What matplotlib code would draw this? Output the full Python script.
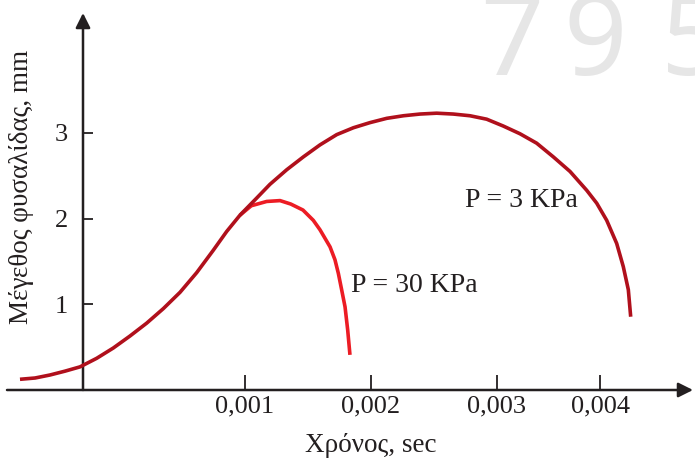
import numpy as np
import matplotlib
matplotlib.use('Agg')
import matplotlib.pyplot as plt

plt.rcParams['font.family'] = ['Liberation Serif', 'DejaVu Serif']

# Data (time in seconds, bubble size in mm)
t_3kpa = [-0.000389, -0.000296, -0.000204, -0.000111, -0.0000185, 0.0000846,
          0.000187, 0.00029, 0.000393, 0.000496, 0.000599, 0.000702,
          0.000804, 0.000887, 0.000969, 0.001093, 0.001198, 0.001331,
          0.001463, 0.001595, 0.001728, 0.00186, 0.001992, 0.002125,
          0.002257, 0.002389, 0.002521, 0.002653, 0.002786, 0.002918,
          0.003061, 0.003223, 0.003385, 0.003547, 0.003709, 0.003871,
          0.003968, 0.004065, 0.004162, 0.004226, 0.004275, 0.004298]
size_3kpa = [0.125, 0.14, 0.175, 0.22, 0.27, 0.37,
             0.49, 0.63, 0.78, 0.95, 1.14, 1.37,
             1.63, 1.85, 2.04, 2.24, 2.40, 2.57,
             2.72, 2.86, 2.98, 3.06, 3.12, 3.17,
             3.20, 3.22, 3.23, 3.22, 3.20, 3.16,
             3.08, 2.99, 2.88, 2.72, 2.55, 2.33,
             2.18, 1.98, 1.71, 1.44, 1.17, 0.855]

t_30kpa = [0.000969, 0.00105, 0.001172, 0.001278, 0.001363, 0.00146,
           0.001542, 0.001595, 0.001675, 0.001714, 0.001741, 0.001767,
           0.001794, 0.001815, 0.001833]
size_30kpa = [2.04, 2.15, 2.20, 2.21, 2.17, 2.10,
              1.98, 1.87, 1.67, 1.52, 1.36, 1.17,
              0.97, 0.70, 0.41]

x_ticks = [0.001, 0.002, 0.003, 0.004]
x_tick_labels = ['0,001', '0,002', '0,003', '0,004']
y_ticks = [1, 2, 3]

# the drawing has unevenly spaced time ticks -> piecewise linear axis scale
T_KNOTS = [-0.001, 0.0, 0.001, 0.002, 0.003, 0.004, 0.005]
P_KNOTS = [-79, 83, 245, 371, 497, 600, 703]


def forward(t):
    return np.interp(t, T_KNOTS, P_KNOTS)


def inverse(p):
    return np.interp(p, P_KNOTS, T_KNOTS)


dark_red = '#b0101c'
bright_red = '#ec1c24'
ink = '#231f20'

fig = plt.figure(figsize=(6.95, 4.62), dpi=100)
ax = fig.add_axes([0, 0, 1, 1])
ax.set_xscale('function', functions=(forward, inverse))
ax.set_xlim(inverse(0), inverse(695))
ax.set_ylim((390 - 462) / 85.7, 390 / 85.7)

# faint watermark (cut at the top edge, as in the original)
for ch, px in zip('795', [512, 595, 693]):
    fig.text(px / 695, 1 - 75 / 462, ch, fontsize=80, color='#e6e6e6',
             family='Noto Sans', weight='medium', ha='center', va='baseline',
             zorder=0)

# axes with arrow heads
ax.annotate('', xy=(inverse(693), 0), xytext=(inverse(7), 0),
            arrowprops=dict(arrowstyle='-|>', lw=1.8, color=ink,
                            mutation_scale=22, shrinkA=0, shrinkB=0))
ax.annotate('', xy=(0, (390 - 13) / 85.7), xytext=(0, 0),
            arrowprops=dict(arrowstyle='-|>', lw=1.8, color=ink,
                            mutation_scale=22, shrinkA=0, shrinkB=0))

for side in ['top', 'right']:
    ax.spines[side].set_visible(False)
ax.spines['bottom'].set_position(('data', 0))
ax.spines['left'].set_position(('data', 0))
ax.spines['bottom'].set_color('none')
ax.spines['left'].set_color('none')

ax.set_xticks(x_ticks)
ax.set_xticklabels(x_tick_labels)
ax.set_yticks(y_ticks)
ax.minorticks_off()
ax.tick_params(axis='x', direction='in', length=11, width=1.3, color=ink,
               labelsize=19, labelcolor=ink, pad=4)
ax.tick_params(axis='y', direction='in', length=7.5, width=1.3, color=ink,
               labelsize=19, labelcolor=ink, pad=11)

ax.plot(t_3kpa, size_3kpa, color=dark_red, lw=2.6, solid_capstyle='butt', zorder=3)
ax.plot(t_30kpa, size_30kpa, color=bright_red, lw=2.6, solid_capstyle='butt', zorder=2)

ax.text(0.002746, 2.135, 'P = 3 KPa', fontsize=20, color=ink, ha='left', va='baseline')
ax.text(0.001845, 1.144, 'P = 30 KPa', fontsize=20, color=ink, ha='left', va='baseline')

fig.text(22 / 695, 1 - 187 / 462, 'Μέγεθος φυσαλίδας, mm', rotation=90,
         fontsize=19.5, color=ink, ha='center', va='center')
fig.text(371 / 695, 1 - 446 / 462, 'Χρόνος, sec', fontsize=19.5, color=ink,
         ha='center', va='center')

fig.savefig('out.png', dpi=100)
